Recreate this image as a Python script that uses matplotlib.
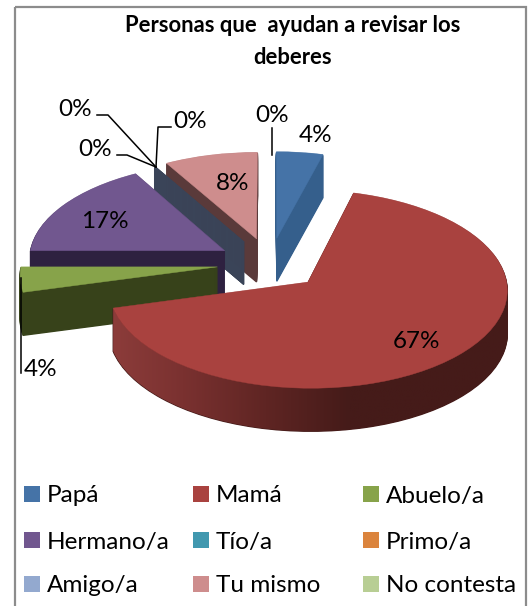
import numpy as np
import matplotlib
matplotlib.use("Agg")
import matplotlib.pyplot as plt
from matplotlib.colors import LinearSegmentedColormap
from matplotlib.patches import Polygon, Rectangle
from matplotlib.transforms import Transform

plt.rcParams['font.family'] = ['Lato', 'DejaVu Sans']

# Datos
categorias = ["Papá", "Mamá", "Abuelo/a", "Hermano/a", "Tío/a", "Primo/a", "Amigo/a", "Tu mismo", "No contesta"]
valores = [1, 16, 1, 4, 0, 0, 0, 2, 0]
colores = ["#4573A7", "#A9423F", "#87A34A", "#71578F", "#4198AF", "#DB843D", "#93A9CF", "#CE8D8D", "#B8CE94"]
colores_lado = ["#355F8C", "#451B19", "#37421A", "#2E2140", "#3A4458", "#3A4458", "#3A4458", "#5A3A3A", "none"]
orden = [1, 6, 5, 4, 3, 3, 3, 2, 1]
explosion = [0.27] * 9
titulo = "Personas que  ayudan a revisar los\ndeberes"

W, H = 529, 606
CX, CY, RX, RY, K = 270, 263.5, 196, 96, 0.07
PROF = 43


# Perspektive: Tortenkoordinaten nach Pixel
class Perspectiva(Transform):
    input_dims = 2
    output_dims = 2

    def __init__(self, dy=0):
        super().__init__()
        self.dy = dy

    def transform_non_affine(self, values):
        v = np.asarray(values, dtype=float)
        w = 1 + K*v[:, 1]
        return np.column_stack([CX + RX*v[:, 0]/w, CY - RY*v[:, 1]/w + self.dy])


fig = plt.figure(figsize=(W/100, H/100), dpi=100)
ax = fig.add_axes([0, 0, 1, 1])

# Torte, von unten nach oben gestapelt
for d in range(PROF, -1, -1):
    cols = colores if d == 0 else colores_lado
    wedges, _ = ax.pie(valores, explode=explosion, startangle=90, counterclock=False, colors=cols)
    for i, wg in enumerate(wedges):
        wg.set_edgecolor(cols[i])
        wg.set_linewidth(1 if d > 0 else 0.3)
        wg.set_transform(Perspectiva(d) + ax.transData)
        wg.set_zorder(orden[i] + 1 - d/100)
        wg.set_clip_on(False)
        if d == 0 and valores[i] == 0:
            wg.set_visible(False)

ax.set_aspect("auto")

# Verlauf auf der Seite von Mamá
total = sum(valores)
cen = np.deg2rad(90 - (15 + 255)/2)
ex = np.array([np.cos(cen), np.sin(cen)])*explosion[1]
th = np.deg2rad(np.linspace(0, -165, 80))
arco = np.column_stack([ex[0] + np.cos(th), ex[1] + np.sin(th)])
arriba = Perspectiva(0).transform(arco)
abajo = Perspectiva(PROF).transform(arco)
cinta = Polygon(np.vstack([arriba, abajo[::-1]]), closed=True, transform=ax.transData, fc="none", ec="none")
ax.add_patch(cinta)
cmap = LinearSegmentedColormap.from_list("lado", ["#8F3E3C", "#7A3130", "#5F2523", "#451B19", "#451B19", "#451B19"])
img = ax.imshow(np.linspace(0, 1, 256)[None, :], cmap=cmap, extent=(100, 515, 480, 300), aspect="auto", zorder=6.995)
img.set_clip_path(cinta)

ax.set_xlim(0, W)
ax.set_ylim(H, 0)
ax.axis("off")

# Rahmen
ax.add_patch(Rectangle((15, 7), 511, 620, fc="none", ec="#8C8C8C", lw=1.6, zorder=20))

ax.text(293, 26, titulo.split("\n")[0], ha="center", va="center", fontsize=15.8, fontweight="bold", zorder=21)
ax.text(293, 57, titulo.split("\n")[1], ha="center", va="center", fontsize=15.8, fontweight="bold", zorder=21)

# Prozentbeschriftungen
pct = [f"{round(v/total*100)}%" for v in valores]
pos_pct = [(316, 136), (416, 341), (41, 369), (105, 222), (190, 121), (75, 109), (95, 150), (233, 184), (272, 115)]
for p, (x, y) in zip(pct, pos_pct):
    ax.text(x, y, p, ha="center", va="center", fontsize=17.5, color="black", zorder=21)

# Führungslinien
lineas = [([97, 108, 156], [115, 115, 167]),
          ([117, 127, 156], [155, 155, 167]),
          ([171, 158, 156], [127, 127, 167]),
          ([272, 272], [128, 155]),
          ([21, 21], [278, 373])]
for lx, ly in lineas:
    ax.plot(lx, ly, color="black", lw=1.1, zorder=21)

# Legende
col_x = [24, 193, 363]
fila_y = [494, 540, 584]
for i, c in enumerate(categorias):
    x = col_x[i % 3]
    y = fila_y[i//3]
    ax.add_patch(Rectangle((x, y-8), 16, 16, fc=colores[i], ec="none", zorder=21))
    ax.text(x+23, y+2, c, ha="left", va="center", fontsize=17.5, color="black", zorder=21)

fig.savefig("out.png", dpi=100)
